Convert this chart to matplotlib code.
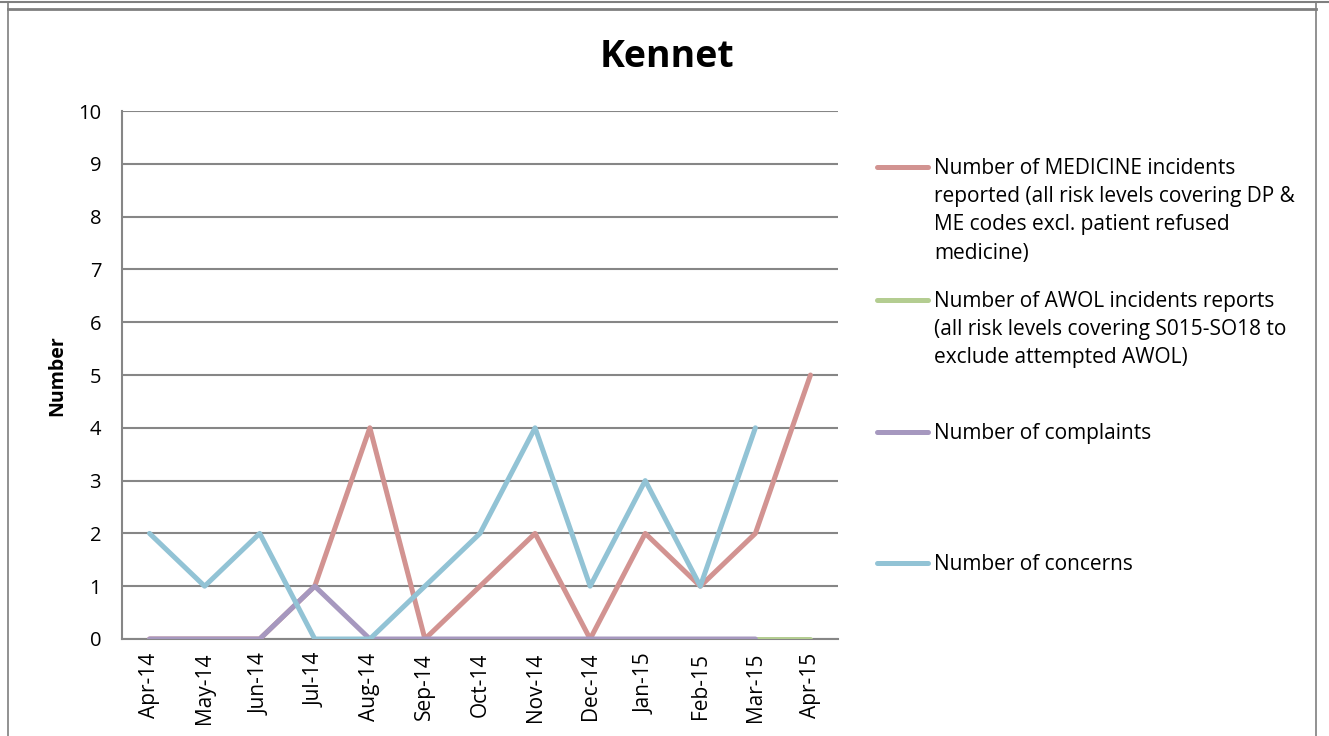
import matplotlib
matplotlib.use('Agg')
import matplotlib.pyplot as plt
from matplotlib.lines import Line2D

plt.rcParams['font.family'] = ['Open Sans', 'DejaVu Sans']

months = ['Apr-14', 'May-14', 'Jun-14', 'Jul-14', 'Aug-14', 'Sep-14', 'Oct-14',
          'Nov-14', 'Dec-14', 'Jan-15', 'Feb-15', 'Mar-15', 'Apr-15']
medicine = [0, 0, 0, 1, 4, 0, 1, 2, 0, 2, 1, 2, 5]
awol = [None] * 11 + [0, 0]
complaints = [0, 0, 0, 1, 0, 0, 0, 0, 0, 0, 0, 0]
concerns = [2, 1, 2, 0, 0, 1, 2, 4, 1, 3, 1, 4]

labels = ['Number of MEDICINE incidents\nreported (all risk levels covering DP &\nME codes excl. patient refused\nmedicine)',
          'Number of AWOL incidents reports\n(all risk levels covering S015-SO18 to\nexclude attempted AWOL)',
          'Number of complaints',
          'Number of concerns']
colors = ['#D29391', '#B4CD91', '#A698BF', '#92C3D5']
series = [medicine, awol, complaints, concerns]

W, H = 1329, 736
fig = plt.figure(figsize=(W / 100, H / 100), dpi=100)
ax = fig.add_axes([122 / W, 1 - 639 / H, (838 - 122) / W, (639 - 111) / H])

for vals, c in zip(series, colors):
    xs = [i for i, v in enumerate(vals) if v is not None]
    ys = [v for v in vals if v is not None]
    ax.plot(xs, ys, color=c, lw=3.6, solid_capstyle='round', zorder=3)

ax.set_xlim(-0.5, len(months) - 0.5)
ax.set_ylim(0, 10)
ax.set_yticks(range(0, 11))
ax.set_xticks(range(len(months)))
ax.set_xticklabels(months, rotation=90, fontsize=15)
ax.tick_params(axis='y', labelsize=14.5, length=0, pad=15)
ax.tick_params(axis='x', length=0, pad=10)
ax.grid(axis='y', color='#868686', lw=1.5, zorder=0)
for s in ['top', 'right']:
    ax.spines[s].set_visible(False)
for s in ['left', 'bottom']:
    ax.spines[s].set_color('#868686')
    ax.spines[s].set_linewidth(1.5)

fig.text(57 / W, 1 - 376 / H, 'Number', fontsize=14, fontweight='bold', rotation=90,
         ha='center', va='center')
fig.text(667 / W, 1 - 57 / H, 'Kennet', fontsize=27, fontweight='bold', ha='center', va='center')

# legend drawn by hand, Excel style
ys = [167, 300, 432, 563]
for lab, c, y in zip(labels, colors, ys):
    fig.add_artist(Line2D([877 / W, 928 / W], [1 - y / H, 1 - y / H], color=c, lw=3.6,
                          solid_capstyle='round', transform=fig.transFigure))
    fig.text(934 / W, 1 - (y - 9) / H, lab, fontsize=15, va='top', ha='left', linespacing=1.45)

# chart frame
fig.add_artist(Line2D([0, 1], [1 - 2 / H, 1 - 2 / H], color='#7f7f7f', lw=1.5, transform=fig.transFigure))
fig.add_artist(Line2D([8 / W, 8 / W], [0, 1 - 2 / H], color='#7f7f7f', lw=1.2, transform=fig.transFigure))
fig.add_artist(Line2D([1316 / W, 1316 / W], [0, 1 - 2 / H], color='#7f7f7f', lw=1.2, transform=fig.transFigure))
fig.add_artist(Line2D([8 / W, 1316 / W], [1 - 9 / H, 1 - 9 / H], color='#7f7f7f', lw=2, transform=fig.transFigure))

fig.savefig('out.png', dpi=100)
